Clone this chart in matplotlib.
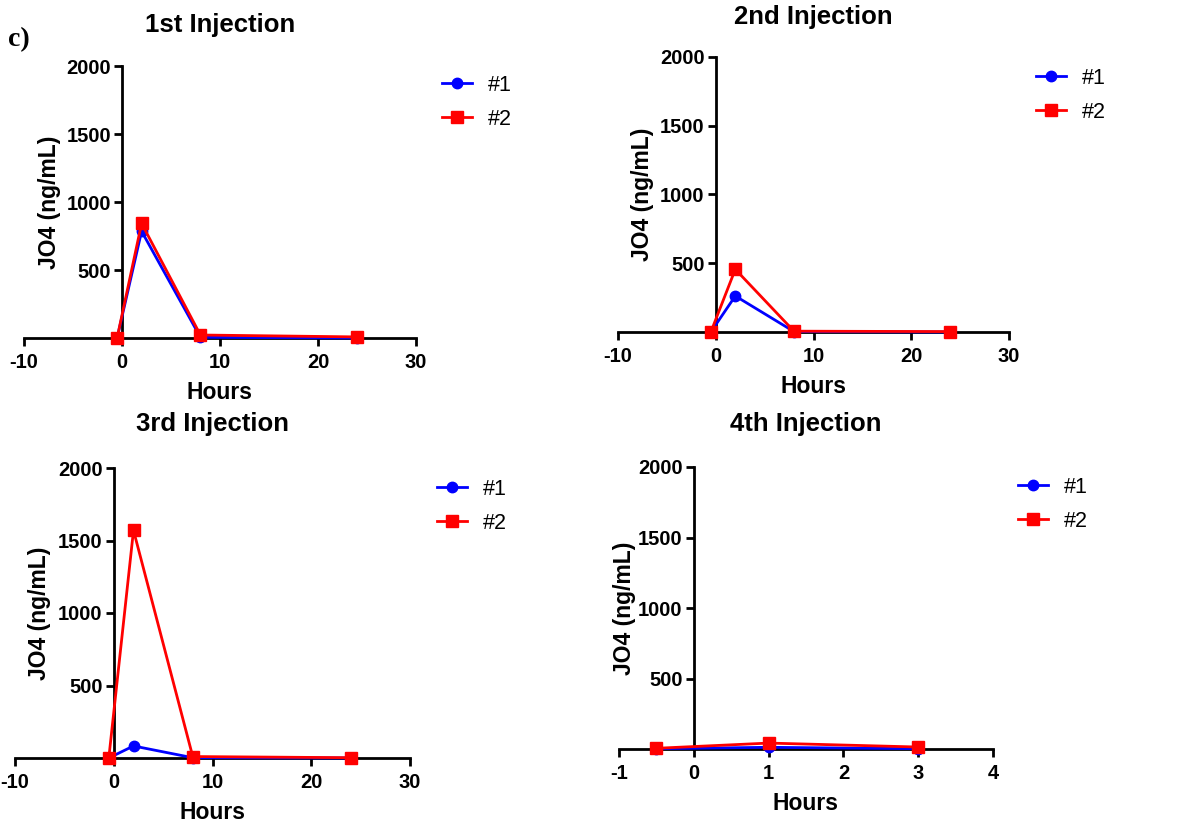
import matplotlib
matplotlib.use("Agg")
import matplotlib.pyplot as plt

plt.rcParams['font.family'] = ['Liberation Sans', 'DejaVu Sans']
plt.rcParams['axes.unicode_minus'] = False

# data
titles = ["1st Injection", "2nd Injection", "3rd Injection", "4th Injection"]
hours_long = [-0.5, 2, 8, 24]
hours_short = [-0.5, 1, 3]

inj1_s1 = [0, 785, 5, 0]
inj1_s2 = [0, 843, 22, 8]
inj2_s1 = [0, 262, 3, 0]
inj2_s2 = [0, 456, 6, 3]
inj3_s1 = [0, 83, 2, 0]
inj3_s2 = [0, 1570, 10, 2]
inj4_s1 = [2, 12, 2]
inj4_s2 = [5, 42, 14]

series = [
    (hours_long, inj1_s1, inj1_s2),
    (hours_long, inj2_s1, inj2_s2),
    (hours_long, inj3_s1, inj3_s2),
    (hours_short, inj4_s1, inj4_s2),
]
xlims = [(-10, 30), (-10, 30), (-10, 30), (-1, 4)]
xticks_long = [-10, 0, 10, 20, 30]
xticks_short = [-1, 0, 1, 2, 3, 4]
yticks = [500, 1000, 1500, 2000]

W, H = 1196, 827
fig = plt.figure(figsize=(W / 100, H / 100), dpi=100)

# axes boxes in pixels: left, right, top (y=2000), bottom (y=0)
boxes = [
    (24, 416, 66, 338),
    (618, 1009, 57, 332),
    (15, 410, 468, 758),
    (619, 993, 467, 749),
]
# legend anchor (pixels, upper-left)
leg_pos = [(442, 75), (1036, 68), (437, 479), (1018, 477)]
title_y = [25, 17, 424, 424]
ylab_x = [50, 643, 40, 625]

for i, (l, r, t, b) in enumerate(boxes):
    ax = fig.add_axes([l / W, 1 - b / H, (r - l) / W, (b - t) / H])
    xs, s1, s2 = series[i]
    ax.plot(xs, s1, color='#0000ff', lw=2, marker='o', ms=7.5,
            label='#1', clip_on=False, zorder=3)
    ax.plot(xs, s2, color='#ff0000', lw=2, marker='s', ms=8.5,
            label='#2', clip_on=False, zorder=4)
    ax.set_xlim(*xlims[i])
    ax.set_ylim(0, 2000)
    ax.set_xticks(xticks_short if i == 3 else xticks_long)
    ax.set_yticks(yticks)
    ax.spines['top'].set_visible(False)
    ax.spines['right'].set_visible(False)
    ax.spines['left'].set_position(('data', 0))
    for sp in ('left', 'bottom'):
        ax.spines[sp].set_linewidth(2)
    ax.tick_params(direction='out', length=6, width=2, labelsize=14.5)
    ax.tick_params(axis='x', pad=5)
    ax.tick_params(axis='y', pad=2)
    for lab in ax.get_xticklabels() + ax.get_yticklabels():
        lab.set_fontweight('bold')
    ax.set_xlabel("Hours", fontsize=16.5, fontweight='bold', labelpad=6)
    ax.set_ylabel("JO4 (ng/mL)", fontsize=16.5, fontweight='bold')
    # y label sits left of the (shifted) y axis
    ax.yaxis.set_label_coords((ylab_x[i] + 11 - l) / (r - l), 0.5)
    fig.text((l + r) / 2 / W, 1 - title_y[i] / H, titles[i],
             ha='center', va='center', fontsize=18.5, fontweight='bold')
    lx, ly = leg_pos[i]
    ax.legend(loc='upper left', bbox_to_anchor=(lx / W, 1 - ly / H),
              bbox_transform=fig.transFigure, frameon=False, fontsize=15.5,
              handlelength=1.4, handletextpad=0.75, labelspacing=0.6,
              borderaxespad=0, borderpad=0)

fig.text(8 / W, 1 - 40 / H, "c)", family='Liberation Serif',
         fontweight='bold', fontsize=20, ha='left', va='center')

fig.savefig("out.png", dpi=100)
